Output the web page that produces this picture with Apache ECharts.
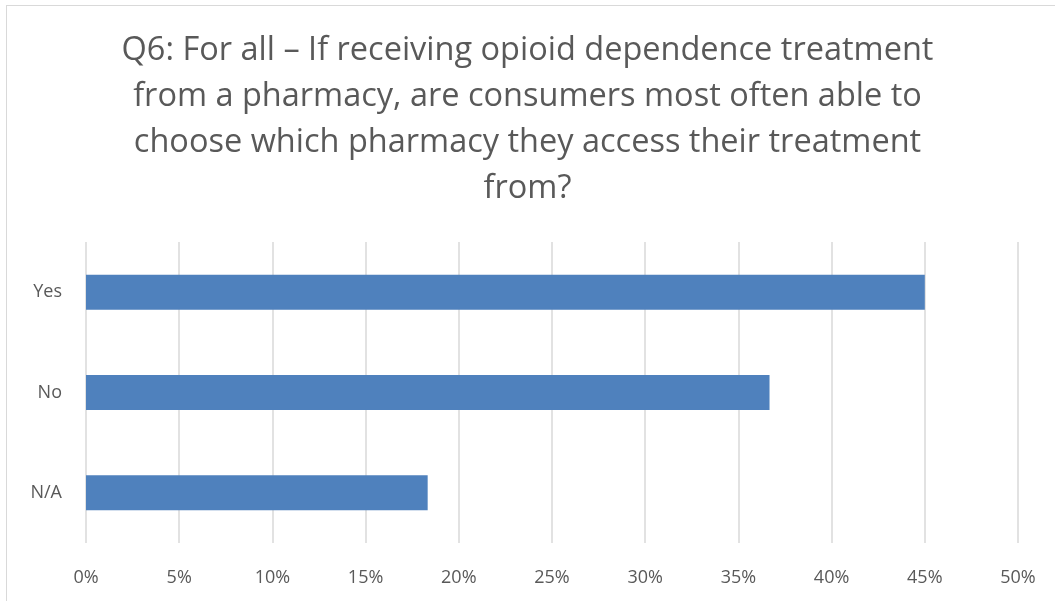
<!DOCTYPE html>
<html><head><meta charset="utf-8">
<script src="https://cdn.jsdelivr.net/npm/echarts@6/dist/echarts.min.js"></script>
<style>html,body{margin:0;padding:0;background:#fff}#c{width:1055px;height:601px;}
#frame{position:absolute;left:6px;top:5px;width:1060px;height:610px;border:1.5px solid #d9d9d9;box-sizing:border-box;pointer-events:none}</style>
</head><body>
<div id="c"></div><div id="frame"></div>
<script>
const categories = ['N/A', 'No', 'Yes'];
const values = [18.33, 36.67, 45.0];
const xTicks = [0, 5, 10, 15, 20, 25, 30, 35, 40, 45, 50];
const titleText = 'Q6: For all \u2013 If receiving opioid dependence treatment\nfrom a pharmacy, are consumers most often able to\nchoose which pharmacy they access their treatment\nfrom?';

const chart = echarts.init(document.getElementById('c'));
chart.setOption({
  animation: false,
  title: {
    text: titleText,
    left: 'center',
    top: 23,
    textStyle: { fontFamily: 'Open Sans', fontSize: 32.5, fontWeight: 'normal', color: '#595959', lineHeight: 46, align: 'center' }
  },
  grid: { left: 86, right: 37, top: 242, bottom: 58 },
  xAxis: {
    type: 'value', min: 0, max: 50, interval: 5,
    axisLine: { show: false }, axisTick: { show: false },
    splitLine: { lineStyle: { color: '#d9d9d9', width: 1.5 } },
    axisLabel: { formatter: v => v + '%', color: '#595959', fontSize: 18, fontFamily: 'Open Sans', margin: 26 }
  },
  yAxis: {
    type: 'category', data: categories,
    axisLine: { show: false }, axisTick: { show: false },
    axisLabel: { color: '#595959', fontSize: 18, fontFamily: 'Open Sans', margin: 24 }
  },
  series: [{
    type: 'bar', data: values, barWidth: 35,
    itemStyle: { color: '#4f81bd' }
  }]
});
</script>
</body></html>
